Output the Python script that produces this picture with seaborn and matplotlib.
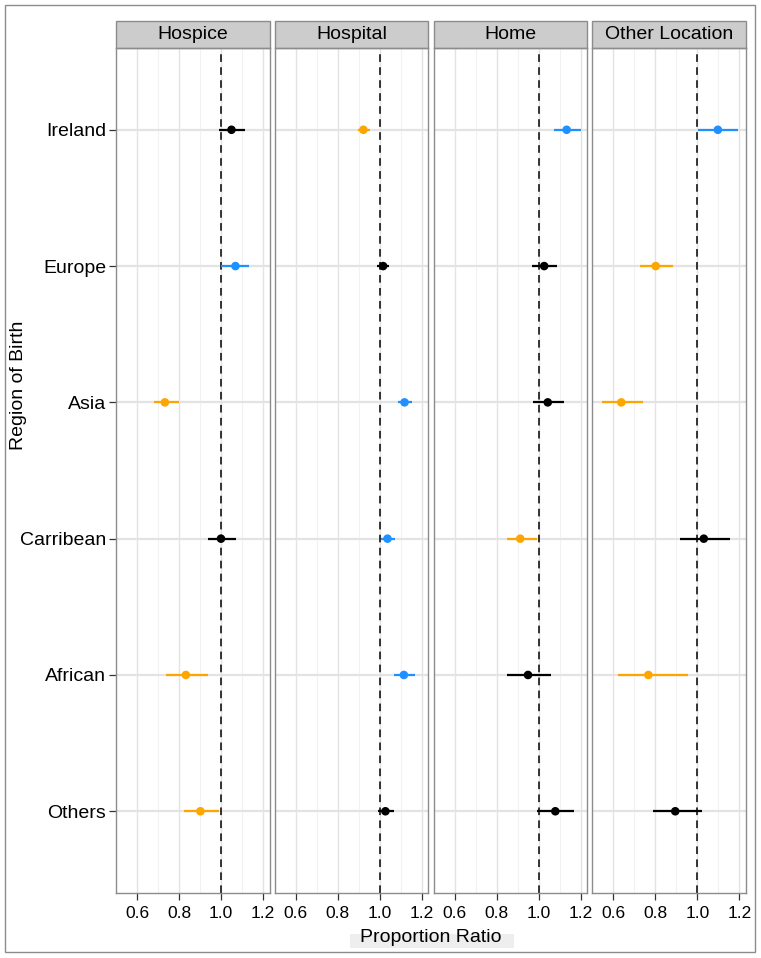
import pandas as pd
import seaborn as sns
import matplotlib.pyplot as plt
from matplotlib.patches import Rectangle

# data
regions = ['Ireland', 'Europe', 'Asia', 'Carribean', 'African', 'Others']
locations = ['Hospice', 'Hospital', 'Home', 'Other Location']

ratio = {
    'Hospice':        [1.05, 1.069, 0.733, 1.00, 0.833, 0.902],
    'Hospital':       [0.922, 1.016, 1.118, 1.037, 1.115, 1.027],
    'Home':           [1.134, 1.027, 1.044, 0.913, 0.950, 1.080],
    'Other Location': [1.098, 0.802, 0.638, 1.031, 0.767, 0.895],
}
lower = {
    'Hospice':        [0.99, 1.001, 0.680, 0.937, 0.739, 0.825],
    'Hospital':       [0.898, 0.985, 1.088, 1.008, 1.068, 0.990],
    'Home':           [1.072, 0.969, 0.974, 0.850, 0.851, 0.994],
    'Other Location': [1.001, 0.725, 0.547, 0.920, 0.621, 0.787],
}
upper = {
    'Hospice':        [1.113, 1.132, 0.800, 1.070, 0.937, 0.992],
    'Hospital':       [0.952, 1.042, 1.154, 1.074, 1.166, 1.068],
    'Home':           [1.200, 1.089, 1.122, 0.994, 1.058, 1.171],
    'Other Location': [1.194, 0.883, 0.743, 1.157, 0.956, 1.023],
}
# significance: 'low' (below 1), 'high' (above 1), 'ns'
signif = {
    'Hospice':        ['ns', 'high', 'low', 'ns', 'low', 'low'],
    'Hospital':       ['low', 'ns', 'high', 'high', 'high', 'ns'],
    'Home':           ['high', 'ns', 'ns', 'low', 'ns', 'ns'],
    'Other Location': ['high', 'low', 'low', 'ns', 'low', 'ns'],
}

palette = {'low': '#FFA500', 'high': '#1E90FF', 'ns': 'black'}

rows = []
for loc in locations:
    for i, reg in enumerate(regions):
        rows.append({
            'location': loc,
            'region': reg,
            'ypos': len(regions) - i,
            'ratio': ratio[loc][i],
            'lower': lower[loc][i],
            'upper': upper[loc][i],
            'signif': signif[loc][i],
        })
df = pd.DataFrame(rows)

sns.set_theme(style='white')
plt.rcParams['font.family'] = ['Liberation Sans', 'DejaVu Sans']

g = sns.FacetGrid(df, col='location', col_order=locations, sharex=True, sharey=True,
                  height=9.58, aspect=7.61 / 9.58 / 4, despine=False)
g.figure.set_size_inches(7.61, 9.58)


def draw_forest(data, **kws):
    ax = plt.gca()
    for _, r in data.iterrows():
        ax.hlines(r['ypos'], r['lower'], r['upper'], color=palette[r['signif']],
                  lw=1.6, zorder=3)
    sns.scatterplot(data=data, x='ratio', y='ypos', hue='signif', palette=palette,
                    s=38, edgecolor='none', legend=False, zorder=4, ax=ax)
    ax.axvline(1.0, color='black', lw=1.1, ls=(0, (5, 3.5)), zorder=2)


g.map_dataframe(draw_forest)

g.figure.subplots_adjust(left=0.1524, right=0.9803, bottom=0.0678, top=0.9499, wspace=0.033)

strip_h = 27 / 845
for ax, loc in zip(g.axes.flat, locations):
    ax.set_xlim(0.526, 1.232)
    ax.set_ylim(0.4, 6.6)
    ax.set_xticks([0.6, 0.8, 1.0, 1.2])
    ax.set_xticklabels(['0.6', '0.8', '1.0', '1.2'], fontsize=12.5, color='black')
    ax.set_xticks([0.5, 0.7, 0.9, 1.1], minor=True)
    ax.set_yticks(range(1, len(regions) + 1))
    ax.set_yticklabels(regions[::-1], fontsize=14, color='black')
    ax.grid(False)
    for x in [0.6, 0.8, 1.0, 1.2]:
        ax.axvline(x, color='#E3E3E3', lw=1.0, zorder=0)
    for x in [0.5, 0.7, 0.9, 1.1]:
        ax.axvline(x, color='#F2F2F2', lw=0.8, zorder=0)
    for y in range(1, len(regions) + 1):
        ax.axhline(y, color='#E3E3E3', lw=1.6, zorder=0)
    for sp in ax.spines.values():
        sp.set_color('#8C8C8C')
        sp.set_linewidth(1.0)
    ax.tick_params(axis='x', which='major', bottom=True, length=5, width=0.9,
                   color='#333333', pad=4)
    ax.tick_params(axis='x', which='minor', bottom=False)
    ax.tick_params(axis='y', left=True, length=5, width=0.9, color='#333333', pad=2)
    ax.set_xlabel('')
    ax.set_ylabel('')
    ax.set_title('')
    # facet strip
    ax.add_patch(Rectangle((0, 1), 1, strip_h, transform=ax.transAxes, clip_on=False,
                           facecolor='#CCCCCC', edgecolor='#8C8C8C', lw=1.0))
    ax.text(0.5, 1 + strip_h / 2, loc, transform=ax.transAxes, ha='center', va='center',
            fontsize=14, color='black')

for ax in g.axes.flat[1:]:
    ax.tick_params(axis='y', left=False, labelleft=False)

fig = g.figure
fig.text(19 / 761, 1 - 385 / 958, 'Region of Birth', rotation=90,
         ha='center', va='center', fontsize=14, color='black')
# light grey band behind the x label
fig.add_artist(Rectangle((350 / 761, 1 - 948 / 958), 164 / 761, 14 / 958,
                         transform=fig.transFigure, facecolor='#EEEEEE', edgecolor='none'))
fig.text(431 / 761, 1 - 937 / 958, 'Proportion Ratio', ha='center', va='center',
         fontsize=14, color='black')

# outer frame
fig.add_artist(Rectangle((5 / 761, 6 / 958), 750 / 761, 947 / 958, transform=fig.transFigure,
                         fill=False, edgecolor='#8C8C8C', lw=1.0))

fig.savefig('out.png', dpi=100)
